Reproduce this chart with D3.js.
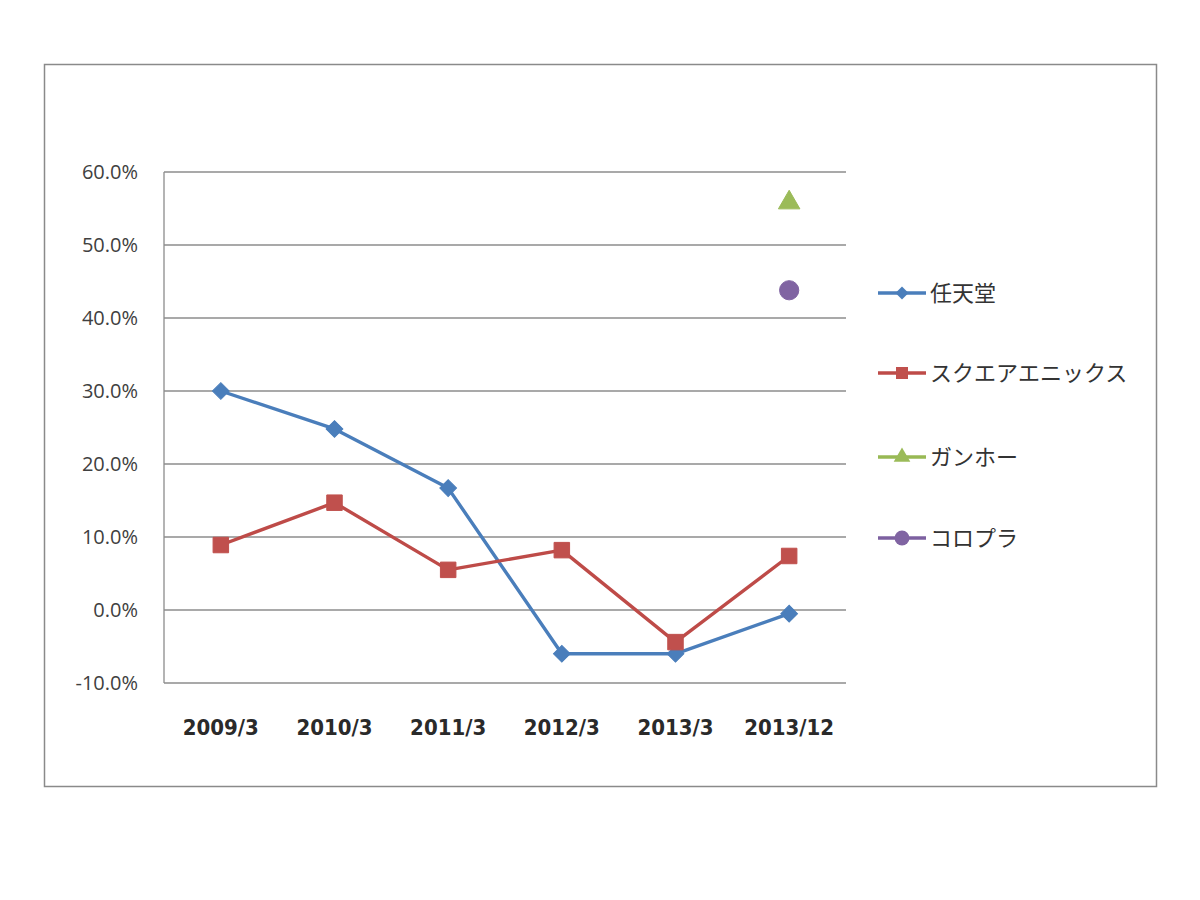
<!DOCTYPE html>
<html><head><meta charset="utf-8">
<script src="https://cdn.jsdelivr.net/npm/d3@7"></script>
<style>body{margin:0;background:#fff}</style>
</head><body>
<svg id="c" width="1200" height="900"></svg>
<script>
const categories = ["2009/3","2010/3","2011/3","2012/3","2013/3","2013/12"];
const nintendo = [30.0, 24.8, 16.7, -6.0, -6.0, -0.5];
const squareEnix = [8.9, 14.7, 5.5, 8.2, -4.4, 7.4];
const gungho = [null, null, null, null, null, 55.8];
const colopl = [null, null, null, null, null, 43.8];
const seriesNames = ["任天堂","スクエアエニックス","ガンホー","コロプラ"];
const yTicks = [-10,0,10,20,30,40,50,60];

const series = [
  {name: seriesNames[0], values: nintendo, color: "#4a7ebb", mcolor:"#4a7ebb", marker: "diamond"},
  {name: seriesNames[1], values: squareEnix, color: "#be4b48", mcolor:"#c0504d", marker: "square"},
  {name: seriesNames[2], values: gungho, color: "#98b954", mcolor:"#9bbb59", marker: "triangle"},
  {name: seriesNames[3], values: colopl, color: "#7d60a0", mcolor:"#8064a2", marker: "circle"}
];

const svg = d3.select("#c");
svg.append("rect").attr("x",44.5).attr("y",64.5).attr("width",1112).attr("height",722)
  .attr("fill","#fff").attr("stroke","#8a8a8a").attr("stroke-width",1.5);

const L=164, R=846, T=172, B=683;
const x = d3.scaleBand().domain(categories).range([L,R]).padding(0);
const y = d3.scaleLinear().domain([-10,60]).range([B,T]);
const cx = c => x(c) + x.bandwidth()/2;

const g = svg.append("g");
g.selectAll("line.grid").data(yTicks).join("line")
  .attr("x1",L).attr("x2",R).attr("y1",d=>y(d)).attr("y2",d=>y(d))
  .attr("stroke","#8c8c8c").attr("stroke-width",1.3);
g.append("line").attr("x1",L).attr("x2",L).attr("y1",T).attr("y2",B).attr("stroke","#8c8c8c").attr("stroke-width",1.3);

const yAxis = d3.axisLeft(y).tickValues(yTicks).tickSize(0).tickPadding(26).tickFormat(d=>d.toFixed(1)+"%");
const ya = svg.append("g").attr("transform",`translate(${L},0)`).call(yAxis);
ya.select(".domain").remove();
ya.selectAll("text").attr("font-family","'Open Sans', 'Liberation Sans', sans-serif")
  .attr("font-size",20).attr("fill","#404040");

const xAxis = d3.axisBottom(x).tickSize(0).tickPadding(36);
const xa = svg.append("g").attr("transform",`translate(0,${B})`).call(xAxis);
xa.select(".domain").remove();
xa.selectAll("text").attr("font-family","'DejaVu Sans Condensed', 'Liberation Sans Narrow', sans-serif")
  .attr("font-stretch","condensed")
  .attr("font-weight","bold").attr("font-size",22).attr("fill","#2a2a2a");

const symType = {diamond: d3.symbolSquare, square: d3.symbolSquare, triangle: d3.symbolTriangle, circle: d3.symbolCircle};
const symSize = {diamond: 140, square: 240, triangle: 200, circle: 290};
const rot = m => m === "diamond" ? " rotate(45)" : "";

const line = d3.line().defined(d=>d.v!=null).x(d=>cx(d.c)).y(d=>y(d.v));
series.forEach(s=>{
  const pts = s.values.map((v,i)=>({c:categories[i], v}));
  g.append("path").datum(pts).attr("d",line).attr("fill","none")
    .attr("stroke",s.color).attr("stroke-width",3.4).attr("stroke-linejoin","round");
  g.selectAll(null).data(pts.filter(p=>p.v!=null)).join("path")
    .attr("transform",p=>`translate(${cx(p.c)},${y(p.v)})${rot(s.marker)}`)
    .attr("d", d3.symbol().type(symType[s.marker]).size(symSize[s.marker]))
    .attr("fill",s.mcolor).attr("stroke",s.mcolor).attr("stroke-width",1);
});

const legY = [293, 373, 457, 538];
const lg = svg.append("g");
series.forEach((s,i)=>{
  const gy = legY[i];
  lg.append("line").attr("x1",878).attr("x2",926).attr("y1",gy).attr("y2",gy)
    .attr("stroke",s.color).attr("stroke-width",3.4);
  lg.append("path").attr("transform",`translate(902,${gy})${rot(s.marker)}`)
    .attr("d", d3.symbol().type(symType[s.marker]).size(symSize[s.marker]*0.6))
    .attr("fill",s.mcolor);
  lg.append("text").attr("x",930).attr("y",gy).attr("dy","0.35em")
    .attr("font-family","'Noto Sans CJK JP', sans-serif").attr("font-size",22).attr("fill","#333")
    .text(s.name);
});
</script>
</body></html>
